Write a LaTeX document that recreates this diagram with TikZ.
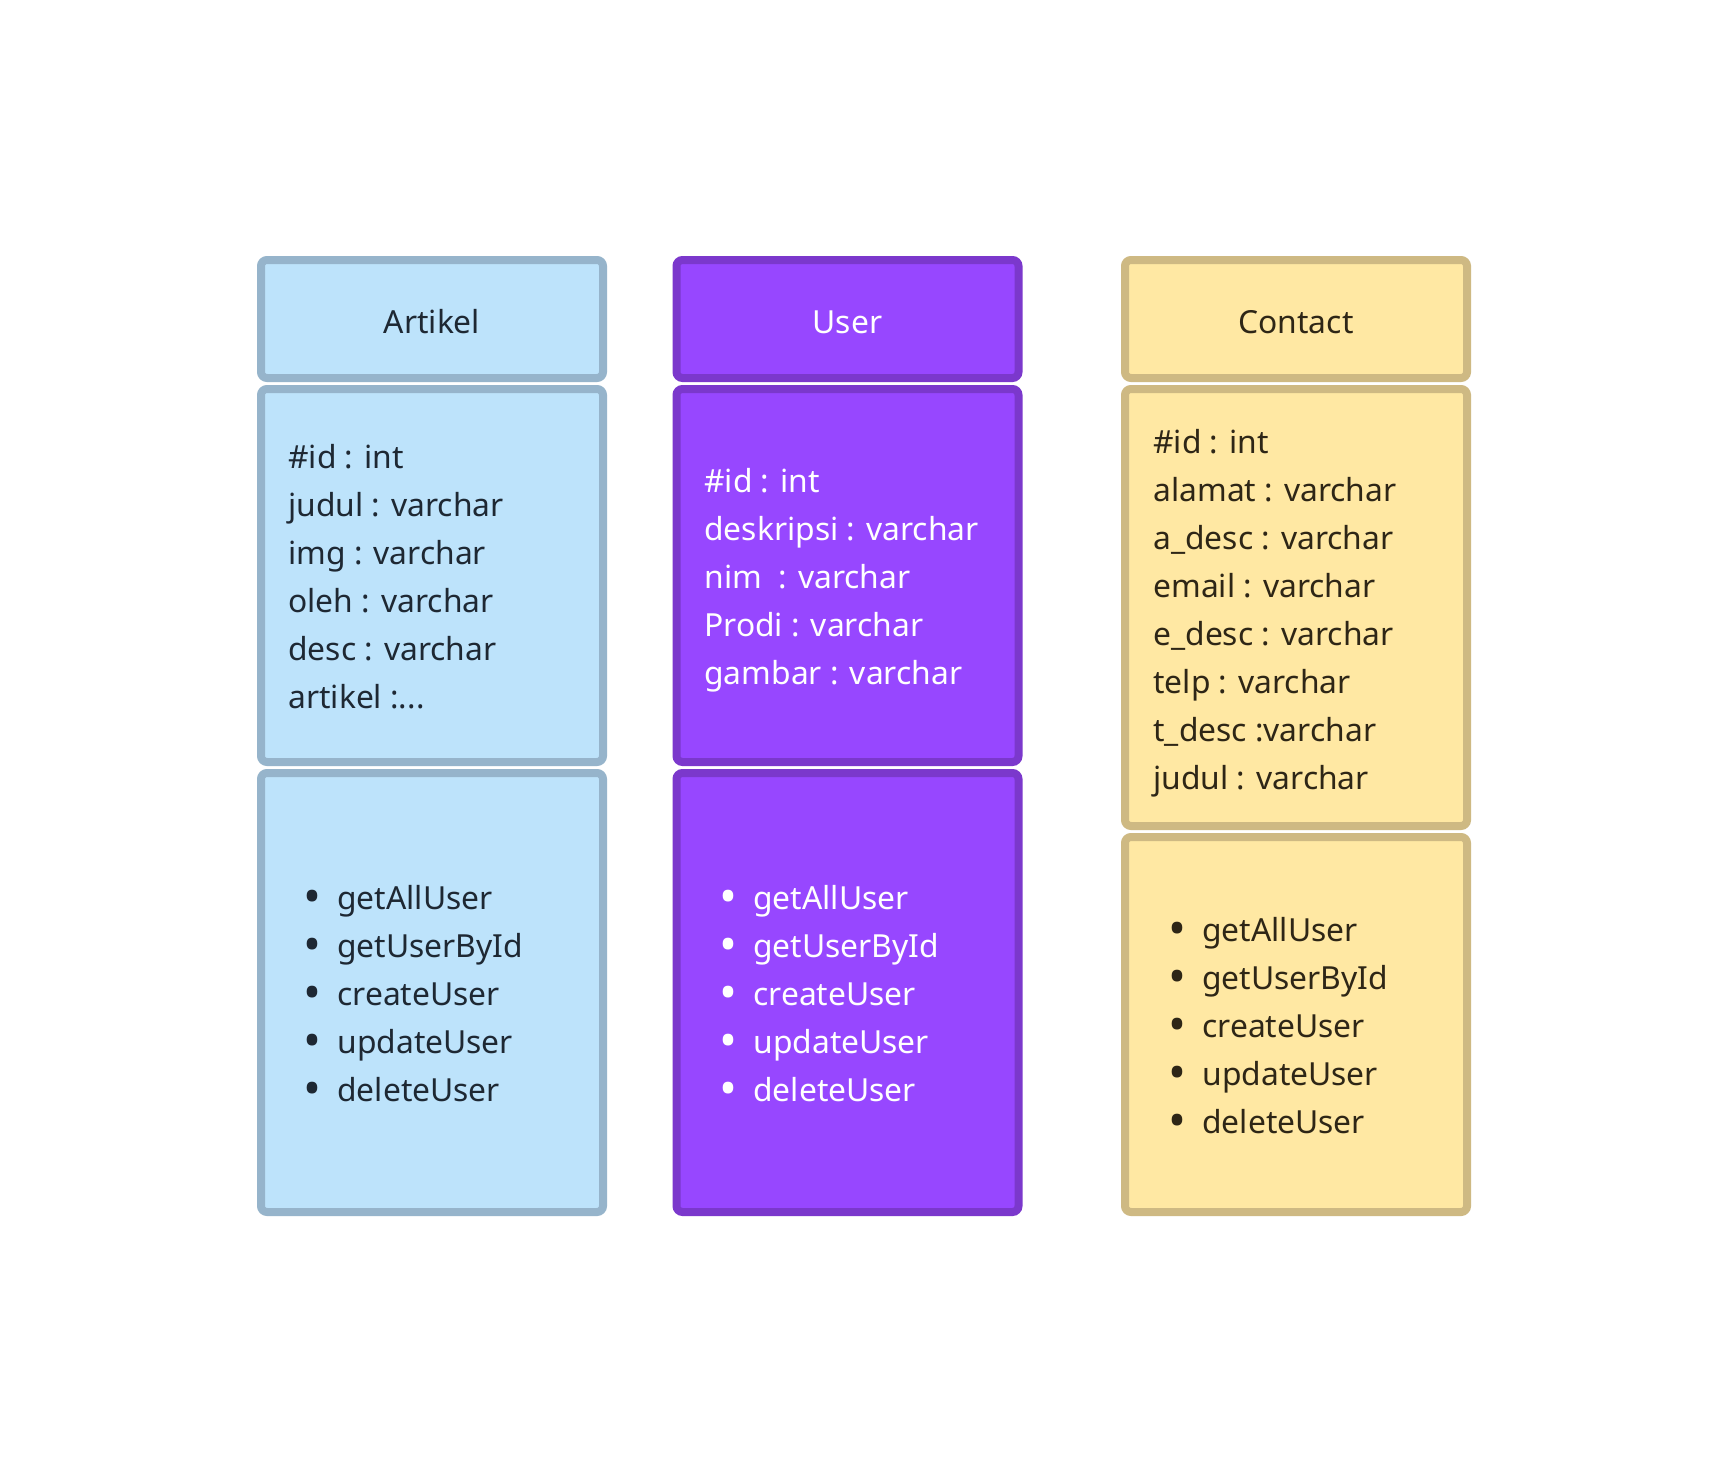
\documentclass[tikz,border=0pt]{standalone}
\usepackage{fontspec}
\setmainfont{Noto Sans}
\definecolor{artFill}{HTML}{BDE3FB}
\definecolor{artStroke}{HTML}{96B4CB}
\definecolor{artText}{HTML}{1E2833}
\definecolor{usrFill}{HTML}{9747FF}
\definecolor{usrStroke}{HTML}{7B38CC}
\definecolor{usrText}{HTML}{FFFFFF}
\definecolor{conFill}{HTML}{FFE8A3}
\definecolor{conStroke}{HTML}{CEB983}
\definecolor{conText}{HTML}{2E2616}
\newcommand{\bul}{\makebox[17pt][l]{\raisebox{-2.0pt}{\scalebox{1.5}{•}}}}
\begin{document}
\begin{tikzpicture}[x=0.5pt,y=-0.5pt,
  txtfont/.style={font=\fontsize{15.9pt}{24pt}\selectfont},
  box/.style={rectangle, rounded corners=3pt, line width=4pt, minimum width=171pt, inner sep=0pt},
  artbox/.style={box, draw=artStroke, fill=artFill},
  usrbox/.style={box, draw=usrStroke, fill=usrFill},
  conbox/.style={box, draw=conStroke, fill=conFill},
  line/.style={anchor=base west, inner sep=0pt, txtfont},
  artline/.style={line, text=artText},
  usrline/.style={line, text=usrText},
  conline/.style={line, text=conText},
]
\useasboundingbox[fill=white] (0,0) rectangle (1728,1472);

% Artikel
\node[artbox, minimum height=59pt] (ah) at (432,319) {};
\node[artbox, minimum height=186.5pt] (aa) at (432,575.5) {};
\node[artbox, minimum height=219.5pt] (am) at (432,992.5) {};
% User
\node[usrbox, minimum height=59pt] (uh) at (847.5,319) {};
\node[usrbox, minimum height=186.5pt] (ua) at (847.5,575.5) {};
\node[usrbox, minimum height=219.5pt] (um) at (847.5,992.5) {};
% Contact
\node[conbox, minimum height=59pt] (ch) at (1296,319) {};
\node[conbox, minimum height=218.5pt] (ca) at (1296,607.5) {};
\node[conbox, minimum height=187.5pt] (cm) at (1296,1024.5) {};

% Headers
\node[artline, anchor=base] (aht) at (432,333) {Artikel};
\node[usrline, anchor=base] (uht) at (847.5,333) {User};
\node[conline, anchor=base] (cht) at (1296,333) {Contact};

% Artikel attributes
\foreach \t [count=\i from 0] in {{\#id : int},{judul : varchar},{img : varchar},{oleh : varchar},{desc : varchar},{artikel :.{}.{}.}}
  \node[artline] (aa\i) at (288,{468+48*\i}) {\t};
% User attributes
\foreach \t [count=\i from 0] in {{\#id : int},{deskripsi : varchar},{nim\ \ : varchar},{Prodi : varchar},{gambar : varchar}}
  \node[usrline] (ua\i) at (704,{492.5+48*\i}) {\t};
% Contact attributes
\foreach \t [count=\i from 0] in {{\#id : int},{alamat : varchar},{a\_desc : varchar},{email : varchar},{e\_desc : varchar},{telp : varchar},{t\_desc :varchar},{judul : varchar}}
  \node[conline] (ca\i) at (1153,{453+48*\i}) {\t};

% Methods
\foreach \t [count=\i from 0] in {getAllUser,getUserById,createUser,updateUser,deleteUser}{
  \node[artline] (am\i) at (303,{909+48*\i}) {\bul\t};
  \node[usrline] (um\i) at (719,{909+48*\i}) {\bul\t};
  \node[conline] (cm\i) at (1168,{941+48*\i}) {\bul\t};
}
\end{tikzpicture}
\end{document}
